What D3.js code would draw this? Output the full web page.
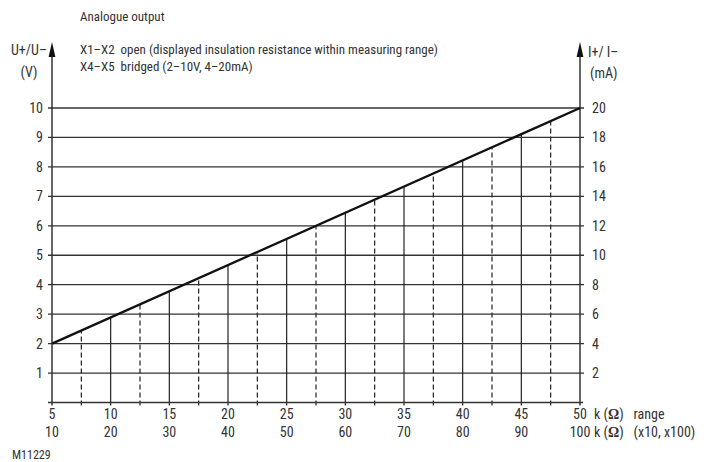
<!DOCTYPE html>
<html><head><meta charset="utf-8">
<script src="https://cdn.jsdelivr.net/npm/d3@7"></script>
<style>
body{margin:0;background:#fff;}
svg text{font-family:"Liberation Sans Narrow","Roboto Condensed","DejaVu Sans Condensed",sans-serif;fill:#333;font-size:13px;}
svg text.tick{font-size:14px;}
</style></head><body>
<svg id="c" width="709" height="462"></svg>
<script>
const leftTicks = [1,2,3,4,5,6,7,8,9,10];
const rightTickLabels = ["2","4","6","8","10","12","14","16","18","20"];
const xTicksRow1 = [5,10,15,20,25,30,35,40,45,50];
const xTicksRow2 = [10,20,30,40,50,60,70,80,90,100];
const verticalPositions = [7.5,10,12.5,15,17.5,20,22.5,25,27.5,30,32.5,35,37.5,40,42.5,45,47.5];
const linePoints = [[5,2],[50,10]];
const titleLines = ["Analogue output"];
const noteLines = ["X1–X2  open (displayed insulation resistance within measuring range)","X4–X5  bridged (2–10V, 4–20mA)"];

const svg = d3.select("#c");
const x = d3.scaleLinear().domain([5,50]).range([52,580]);
const y = d3.scaleLinear().domain([0,10]).range([402.5,108]);
const lineY = d3.scaleLinear().domain([linePoints[0][0],linePoints[1][0]]).range([linePoints[0][1],linePoints[1][1]]);
const ink = "#222";

// horizontal grid lines
svg.append("g").selectAll("line").data(leftTicks).join("line")
  .attr("x1", x(5)-4).attr("x2", x(50)+4)
  .attr("y1", d=>y(d)).attr("y2", d=>y(d))
  .attr("stroke", "#333").attr("stroke-width", 1.3);

// vertical lines
svg.append("g").selectAll("line").data(verticalPositions).join("line")
  .attr("x1", d=>x(d)).attr("x2", d=>x(d))
  .attr("y1", y(0)+3).attr("y2", d=>y(lineY(d)))
  .attr("stroke", ink).attr("stroke-width", 1.2)
  .attr("stroke-dasharray", d => d%5===0 ? null : "5,3");

// bottom axis
svg.append("line").attr("x1", x(5)-4).attr("x2", x(50)+3).attr("y1", y(0)).attr("y2", y(0))
  .attr("stroke", "#333").attr("stroke-width", 1.5);

// vertical axes with arrows
[5,50].forEach(v=>{
  svg.append("line").attr("x1", x(v)).attr("x2", x(v)).attr("y1", y(0)+3).attr("y2", 50)
    .attr("stroke", "#333").attr("stroke-width", 1.5);
  svg.append("path").attr("d", `M${x(v)},42 L${x(v)-3.4},57 L${x(v)+3.4},57 Z`).attr("fill", "#111");
});

// diagonal line
svg.append("path").datum(linePoints)
  .attr("d", d3.line().x(d=>x(d[0])).y(d=>y(d[1])))
  .attr("stroke", "#111").attr("stroke-width", 2.3).attr("fill","none");

// left tick labels
svg.append("g").selectAll("text").data(leftTicks).join("text").attr("class","tick")
  .attr("x", 43).attr("y", d=>y(d)+5).attr("text-anchor","end").text(d=>d);
// right tick labels
svg.append("g").selectAll("text").data(leftTicks).join("text").attr("class","tick")
  .attr("x", 592).attr("y", d=>y(d)+5).attr("text-anchor","start").text((d,i)=>rightTickLabels[i]);

// bottom labels
svg.append("g").selectAll("text").data(xTicksRow1).join("text").attr("class","tick")
  .attr("x", d=>x(d)).attr("y", 419).attr("text-anchor","middle").text(d=>d);
svg.append("g").selectAll("text").data(xTicksRow2).join("text").attr("class","tick")
  .attr("x", (d,i)=>x(xTicksRow1[i])).attr("y", 437).attr("text-anchor","middle").text(d=>d);

function unitLabel(yy, tail){
  const t = svg.append("text").attr("class","tick").attr("x", 594).attr("y", yy);
  t.append("tspan").text("k (");
  t.append("tspan").text("Ω").style("font-family","'Liberation Serif',serif").style("font-weight","bold").style("font-size","14px");
  t.append("tspan").text(")");
  t.append("tspan").attr("dx", 10).text(tail);
}
unitLabel(419, "range");
unitLabel(437, "(x10, x100)");

// titles
svg.append("text").attr("x", 80).attr("y", 21).text(titleLines[0]);
svg.append("g").selectAll("text").data(noteLines).join("text")
  .attr("x", 80).attr("y", (d,i)=>54+i*17).attr("xml:space","preserve").text(d=>d);

// axis unit labels
svg.append("text").attr("class","tick").attr("x", 11).attr("y", 55).text("U+/U–");
svg.append("text").attr("class","tick").attr("x", 29).attr("y", 77).attr("text-anchor","middle").text("(V)");
svg.append("text").attr("class","tick").attr("x", 588).attr("y", 57).text("I+/ I–");
svg.append("text").attr("class","tick").attr("x", 590).attr("y", 78).text("(mA)");

svg.append("text").attr("x", 12).attr("y", 459).style("font-size","12px").text("M11229");
</script></body></html>
